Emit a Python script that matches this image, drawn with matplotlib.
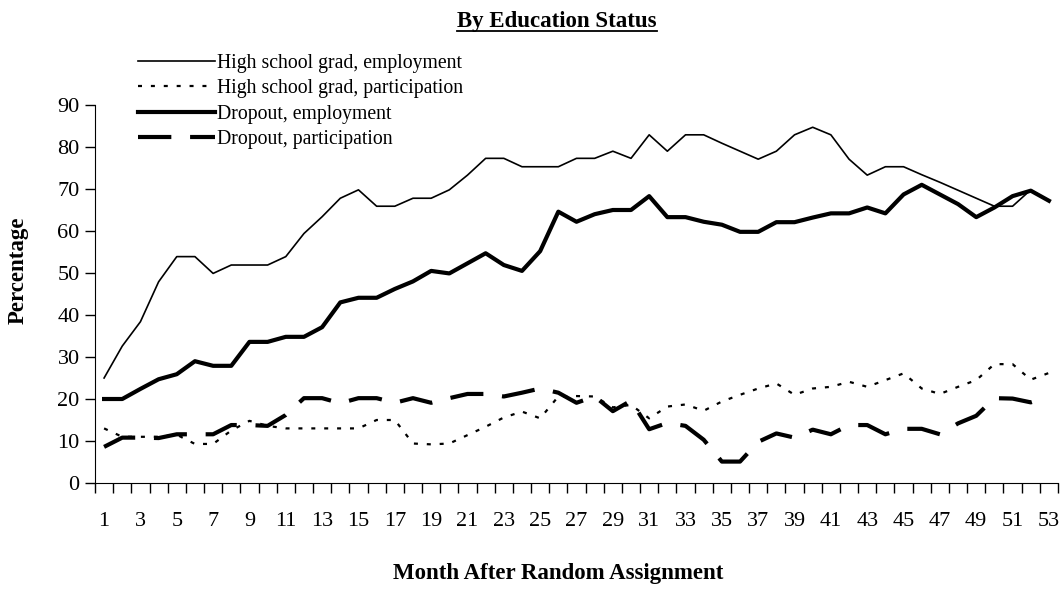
import numpy as np
import matplotlib
matplotlib.use('Agg')
import matplotlib.pyplot as plt
from matplotlib.lines import Line2D

plt.rcParams['font.family'] = ['Liberation Serif', 'DejaVu Serif']

months = np.arange(1, 54)

hs_employment = [25.0, 32.6, 38.4, 47.9, 53.9, 53.9, 49.9, 51.9, 51.9, 51.9,
                 53.9, 59.4, 63.4, 67.8, 69.8, 65.9, 65.9, 67.8, 67.8, 69.8,
                 73.3, 77.3, 77.3, 75.3, 75.3, 75.3, 77.3, 77.3, 79.0, 77.3,
                 82.9, 79.0, 82.9, 82.9, 80.9, 79.0, 77.1, 79.0, 82.9, 84.7,
                 82.9, 77.1, 73.3, 75.3, 75.3, 73.4, 71.6, 69.7, 67.8, 65.9,
                 65.9, 69.8, 67.3]

hs_participation = [13.0, 11.0, 11.0, 11.0, 11.5, 9.3, 9.3, 12.5, 14.8, 13.6,
                    13.0, 13.0, 13.0, 13.0, 13.0, 15.0, 15.0, 9.4, 9.2, 9.4,
                    11.4, 13.4, 15.6, 17.0, 15.4, 20.6, 20.7, 20.6, 18.0, 18.6,
                    15.4, 18.2, 18.7, 17.2, 19.4, 21.0, 22.5, 23.7, 21.0, 22.5,
                    22.9, 24.1, 22.9, 24.5, 26.1, 22.5, 21.2, 22.9, 24.5, 28.3,
                    28.3, 24.6, 26.2]

do_employment = [20.0, 20.0, 22.4, 24.7, 25.9, 29.0, 27.9, 27.9, 33.6, 33.6,
                 34.8, 34.8, 37.1, 43.0, 44.1, 44.1, 46.2, 48.0, 50.5, 49.9,
                 52.3, 54.7, 51.9, 50.5, 55.2, 64.6, 62.2, 64.0, 65.0, 65.0,
                 68.3, 63.3, 63.3, 62.2, 61.5, 59.8, 59.8, 62.1, 62.1, 63.2,
                 64.2, 64.2, 65.6, 64.2, 68.7, 71.0, 68.7, 66.4, 63.3, 65.6,
                 68.3, 69.6, 67.2]

do_participation = [8.6, 10.8, 10.8, 10.7, 11.6, 11.6, 11.6, 13.8, 13.8, 13.6,
                    16.2, 20.2, 20.2, 19.0, 20.2, 20.2, 19.1, 20.2, 19.1, 20.2,
                    21.2, 21.2, 20.6, 21.5, 22.5, 21.5, 19.1, 20.6, 17.1, 19.6,
                    12.8, 14.3, 13.6, 10.3, 5.1, 5.1, 9.8, 11.8, 10.8, 12.7,
                    11.6, 13.8, 13.8, 11.6, 12.9, 12.9, 11.6, 14.2, 16.0, 20.2,
                    20.1, 19.2, 20.5]

labels = ['High school grad, employment', 'High school grad, participation',
          'Dropout, employment', 'Dropout, participation']

fig = plt.figure(figsize=(10.61, 5.93), dpi=100)
ax = fig.add_axes([95/1061, 1-483/593, 963/1061, 378/593])

ax.plot(months, hs_employment, color='black', lw=1.2, label=labels[0])
ax.plot(months, hs_participation, color='black', lw=1.6, dashes=(1.8, 4.0),
        label=labels[1])
ax.plot(months, do_employment, color='black', lw=3.0, label=labels[2])
ax.plot(months, do_participation, color='black', lw=3.0, dashes=(8, 4.5),
        label=labels[3])

ax.set_xlim(0.5, 53.5)
ax.set_ylim(0, 90)
ax.set_yticks(np.arange(0, 91, 10))
ax.set_xticks(months[::2])
ax.set_xticks(np.arange(0.5, 54, 1), minor=True)
ax.tick_params(axis='x', which='major', length=0, pad=21, labelsize=16)
ax.tick_params(axis='x', which='minor', length=7, width=1, direction='out')
ax.tick_params(axis='y', length=7, width=1, direction='out', labelsize=16, pad=4)
for s in ['top', 'right']:
    ax.spines[s].set_visible(False)

leg = ax.legend(loc='upper left', bbox_to_anchor=(138/1061, 1-54/593),
                bbox_transform=fig.transFigure, frameon=False, fontsize=14.2,
                handlelength=3.9, handletextpad=0.1, labelspacing=0.32,
                borderpad=0, borderaxespad=0)

title = fig.text(557/1061, 1-22/593, 'By Education Status', ha='center',
                 va='center', fontsize=16.5, fontweight='bold')
fig.text(18/1061, 1-270/593, 'Percentage', rotation=90, ha='center',
         va='center', fontsize=16.5, fontweight='bold')
fig.text(558/1061, 1-574/593, 'Month After Random Assignment', ha='center',
         va='center', fontsize=16.5, fontweight='bold')

# underline the title
fig.canvas.draw()
bb = title.get_window_extent().transformed(fig.transFigure.inverted())
fig.add_artist(Line2D([bb.x0, bb.x1], [bb.y0 + 0.002, bb.y0 + 0.002],
                      transform=fig.transFigure, color='black', lw=1.3))

fig.savefig('out.png', dpi=100)
